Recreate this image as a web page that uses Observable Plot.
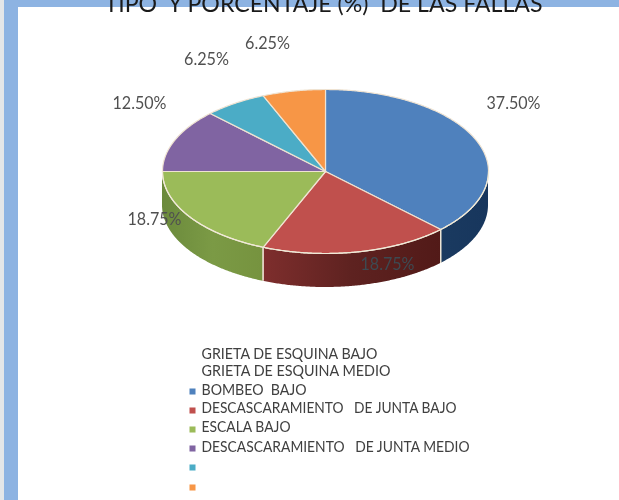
<!DOCTYPE html>
<html><head><meta charset="utf-8">
<script src="https://cdn.jsdelivr.net/npm/d3@7"></script>
<script src="https://cdn.jsdelivr.net/npm/@observablehq/plot@0.6"></script>
<style>html,body{margin:0;padding:0;background:#fff}svg{display:block;filter:blur(0.35px)}</style>
</head><body><div id="chart"></div>
<script>
const titleText = "TIPO  Y PORCENTAJE (%)  DE LAS FALLAS";
const shares = [37.5, 18.75, 18.75, 12.5, 6.25, 6.25];
const colors = ["#4f81bd", "#c0504d", "#9bbb59", "#8064a2", "#4bacc6", "#f79646"];
const shareLabels = ["37.50%", "18.75%", "18.75%", "12.50%", "6.25%", "6.25%"];
const labelX = [513, 387, 154, 139, 206, 267];
const labelY = [103, 264, 219, 103, 59, 43];
const labelFill = ["#505050", "#3d4a52", "#505050", "#505050", "#505050", "#505050"];
const legendLabels = ["GRIETA DE ESQUINA BAJO", "GRIETA DE ESQUINA MEDIO", "BOMBEO  BAJO", "DESCASCARAMIENTO   DE JUNTA BAJO", "ESCALA BAJO", "DESCASCARAMIENTO   DE JUNTA MEDIO"];
const legendTextY = [354, 371, 390, 408, 427, 447];
const legendSwatchY = [391, 410, 429, 448, 467, 487];
const legendWidths = [176, 189, 105, 255, 89, 268];

const CX = 325, CY = 171, RX = 163, RY = 82, DEPTH = 34;
const ptX = a => CX + RX * Math.sin(a * Math.PI / 180);
const ptY = a => CY - RY * Math.cos(a * Math.PI / 180);

let acc = 0;
const slices = shares.map((v, i) => {
  const start = acc * 3.6; acc += v;
  return {i, start, end: acc * 3.6, color: colors[i]};
});
const arc = (a0, a1) => {
  const n = Math.max(2, Math.ceil(a1 - a0) * 2);
  return d3.range(n + 1).map(k => a0 + (a1 - a0) * k / n);
};
const topPoints = slices.flatMap(s => [
  {s: s.i, x: CX, y: CY},
  ...arc(s.start, s.end).map(a => ({s: s.i, x: ptX(a), y: ptY(a)})),
  {s: s.i, x: CX, y: CY}
]);
const wallPoints = slices.filter(s => s.start < 270 && s.end > 90).flatMap(s =>
  arc(Math.max(s.start, 90), Math.min(s.end, 270)).map(a => ({s: s.i, x: ptX(a), y1: ptY(a), y2: ptY(a) + DEPTH}))
);
const seams = slices.map(s => s.end).filter(a => a > 90 && a < 270);
const rimPoints = arc(90, 270).map(a => ({x: ptX(a), y: ptY(a)}));

const gradients = [
  {id: "wall0", stops: ["#1a3a60", "#17365d"]},
  {id: "wall1", stops: ["#7e2e2d", "#5e2220", "#521a18"]},
  {id: "wall2", stops: ["#6b8a3c", "#7b9a45", "#76933f"]}
];
const defsMark = () => {
  const defs = d3.create("svg:defs");
  gradients.forEach(g => {
    const lg = defs.append("linearGradient").attr("id", g.id);
    g.stops.forEach((c, k) => lg.append("stop").attr("offset", k / (g.stops.length - 1)).attr("stop-color", c));
  });
  const g = d3.create("svg:g");
  g.node().appendChild(defs.node());
  return g.node();
};

const FONT = "Lato, 'Open Sans', sans-serif";
const chart = Plot.plot({
  width: 619, height: 500, margin: 0,
  x: {domain: [0, 619], range: [0, 619], axis: null},
  y: {domain: [0, 500], range: [0, 500], axis: null},
  style: {background: "#fff", fontFamily: FONT},
  marks: [
    defsMark,
    Plot.rect([{a: 0, b: 619, c: 0, d: 7}], {x1: "a", x2: "b", y1: "c", y2: "d", fill: "#8db3e2"}),
    Plot.rect([{a: 4, b: 18, c: 0, d: 500}], {x1: "a", x2: "b", y1: "c", y2: "d", fill: "#8db3e2"}),
    Plot.rect([{a: 0, b: 4, c: 0, d: 500}], {x1: "a", x2: "b", y1: "c", y2: "d", fill: "#e4e6e8"}),
    ...[0, 1, 2].map(i => Plot.areaY(wallPoints.filter(d => d.s === i), {x: "x", y1: "y1", y2: "y2", fill: `url(#wall${i})`})),
    Plot.ruleX(seams, {x: ptX, y1: ptY, y2: a => ptY(a) + DEPTH, stroke: "#efe6d6", strokeWidth: 1.5}),
    ...slices.map(s => Plot.line(topPoints.filter(d => d.s === s.i), {x: "x", y: "y", fill: s.color, stroke: "#efe3d2", strokeWidth: 1.2, strokeLinejoin: "round", curve: "linear"})),
    Plot.line(rimPoints, {x: "x", y: "y", stroke: "#f0ead8", strokeWidth: 1.2}),
    Plot.text(shareLabels, {x: (d, i) => labelX[i], y: (d, i) => labelY[i], text: d => d, fill: (d, i) => labelFill[i], fontSize: 16.5, textAnchor: "middle", lineAnchor: "middle", fontFamily: FONT, className: "pct"}),
    Plot.text([titleText], {x: 323, y: 11, text: d => d, fill: "#1a1a1a", fontSize: 23, textAnchor: "middle", lineAnchor: "bottom", fontFamily: FONT, className: "ttl"}),
    Plot.text(legendLabels, {x: 201, y: (d, i) => legendTextY[i], text: d => d, fill: "#404040", fontSize: 14.5, textAnchor: "start", lineAnchor: "middle", fontFamily: FONT, className: "leg"}),
    Plot.dot(colors, {x: 192, y: (d, i) => legendSwatchY[i], symbol: "square", r: 3.4, fill: d => d, stroke: "none"})
  ]
});
chart.querySelectorAll(".leg text").forEach((t, i) => {
  t.setAttribute("textLength", legendWidths[i]);
  t.setAttribute("lengthAdjust", "spacingAndGlyphs");
});
chart.querySelectorAll(".ttl text").forEach(t => {
  t.setAttribute("textLength", 438);
  t.setAttribute("lengthAdjust", "spacingAndGlyphs");
});
chart.querySelectorAll(".pct text").forEach(t => {
  t.setAttribute("textLength", t.textContent.length === 6 ? 54 : 45);
  t.setAttribute("lengthAdjust", "spacingAndGlyphs");
});
document.getElementById("chart").appendChild(chart);
</script></body></html>
